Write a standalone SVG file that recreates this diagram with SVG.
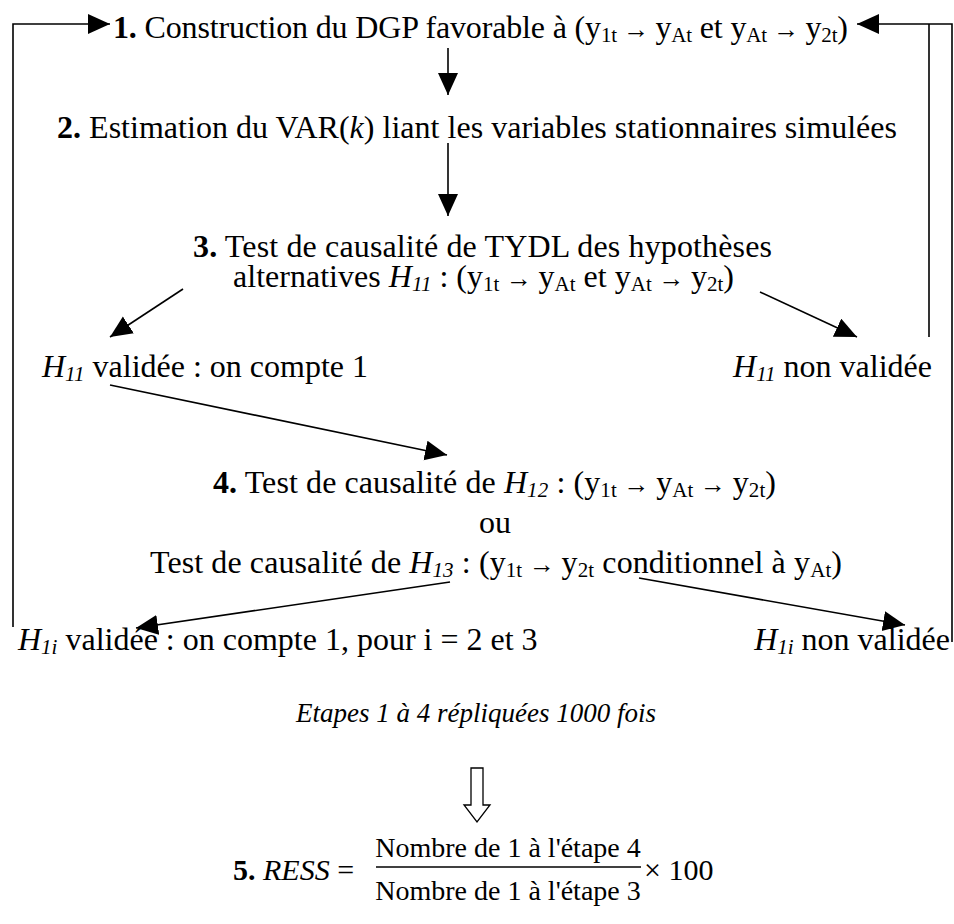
<svg xmlns="http://www.w3.org/2000/svg" width="954" height="924" viewBox="0 0 954 924">
<style>
text{font-family:"Liberation Serif","Times New Roman",serif;font-size:32px;fill:#000}
.b{font-weight:bold}
.i{font-style:italic}
.s{font-size:21px}
.a{font-size:26px}
.m{text-anchor:middle}
.e{text-anchor:end}
.ln{stroke:#000;stroke-width:1.6;fill:none}
.ar{stroke:#000;stroke-width:1.6;fill:none;marker-end:url(#ah)}
</style>
<defs>
<marker id="ah" markerUnits="userSpaceOnUse" markerWidth="24" markerHeight="22" refX="22" refY="10" orient="auto">
<path d="M0,0 L22,10 L0,20 Z" fill="#000"/>
</marker>
</defs>
<rect width="954" height="924" fill="#fff"/>
<g id="connectors">
<path class="ar" d="M13,627 V24 H110"/>
<path class="ln" d="M929,337 V24"/>
<path class="ar" d="M952,642 V24 H857"/>
<path class="ar" d="M448,48 V95"/>
<path class="ar" d="M448,143 V216"/>
<path class="ar" d="M183,289 L110,337"/>
<path class="ar" d="M760,292 L857,337"/>
<path class="ar" d="M110,385 L447,455"/>
<path class="ar" d="M450,582 L136,628"/>
<path class="ar" d="M639,578 L905,625"/>
<polygon points="471,768 483,768 483,805 490,805 477,822 464,805 471,805" fill="#fff" stroke="#000" stroke-width="1.3"/>
</g>
<g id="n1"><text x="113" y="38" textLength="735" lengthAdjust="spacing"><tspan class="b">1.</tspan> Construction du DGP favorable à (y<tspan class="s" dy="4">1t</tspan><tspan class="a" dy="-4"> → </tspan>y<tspan class="s" dy="4">At</tspan><tspan dy="-4"> et y</tspan><tspan class="s" dy="4">At</tspan><tspan class="a" dy="-4"> → </tspan>y<tspan class="s" dy="4">2t</tspan><tspan dy="-4">)</tspan></text></g>
<g id="n2"><text x="57" y="138" textLength="840" lengthAdjust="spacing"><tspan class="b">2.</tspan> Estimation du VAR(<tspan class="i">k</tspan>) liant les variables stationnaires simulées</text></g>
<g id="n3">
<text x="193" y="257" textLength="579" lengthAdjust="spacing"><tspan class="b">3.</tspan> Test de causalité de TYDL des hypothèses</text>
<text x="233" y="287" textLength="501" lengthAdjust="spacing">alternatives <tspan class="i">H</tspan><tspan class="i s" dy="4">11</tspan><tspan dy="-4"> : (y</tspan><tspan class="s" dy="4">1t</tspan><tspan class="a" dy="-4"> → </tspan>y<tspan class="s" dy="4">At</tspan><tspan dy="-4"> et y</tspan><tspan class="s" dy="4">At</tspan><tspan class="a" dy="-4"> → </tspan>y<tspan class="s" dy="4">2t</tspan><tspan dy="-4">)</tspan></text>
</g>
<g id="n3v"><text x="42" y="377"><tspan class="i">H</tspan><tspan class="i s" dy="4">11</tspan><tspan dy="-4"> validée : on compte 1</tspan></text></g>
<g id="n3nv"><text x="932" y="377" class="e"><tspan class="i">H</tspan><tspan class="i s" dy="4">11</tspan><tspan dy="-4"> non validée</tspan></text></g>
<g id="n4">
<text x="213" y="493" textLength="563" lengthAdjust="spacing"><tspan class="b">4.</tspan> Test de causalité de <tspan class="i">H</tspan><tspan class="i s" dy="4">12</tspan><tspan dy="-4"> : (y</tspan><tspan class="s" dy="4">1t</tspan><tspan class="a" dy="-4"> → </tspan>y<tspan class="s" dy="4">At</tspan><tspan class="a" dy="-4"> → </tspan>y<tspan class="s" dy="4">2t</tspan><tspan dy="-4">)</tspan></text>
<text x="495" y="533" class="m">ou</text>
<text x="150" y="573" textLength="692" lengthAdjust="spacing">Test de causalité de <tspan class="i">H</tspan><tspan class="i s" dy="4">13</tspan><tspan dy="-4"> : (y</tspan><tspan class="s" dy="4">1t</tspan><tspan class="a" dy="-4"> → </tspan>y<tspan class="s" dy="4">2t</tspan><tspan dy="-4"> conditionnel à y</tspan><tspan class="s" dy="4">At</tspan><tspan dy="-4">)</tspan></text>
</g>
<g id="n4v"><text x="18" y="650"><tspan class="i">H</tspan><tspan class="i s" dy="4">1i</tspan><tspan dy="-4"> validée : on compte 1, pour i = 2 et 3</tspan></text></g>
<g id="n4nv"><text x="950" y="650" class="e"><tspan class="i">H</tspan><tspan class="i s" dy="4">1i</tspan><tspan dy="-4"> non validée</tspan></text></g>
<g id="rep"><text x="476" y="722" class="m i" style="font-size:27px">Etapes 1 à 4 répliquées 1000 fois</text></g>
<g id="n5">
<text x="233" y="880" style="font-size:30px"><tspan class="b">5.</tspan> <tspan class="i">RESS</tspan> =</text>
<text x="508" y="857" class="m" style="font-size:28px">Nombre de 1 à l'étape 4</text>
<line x1="376" y1="867" x2="641" y2="867" stroke="#000" stroke-width="1.6"/>
<text x="508" y="900" class="m" style="font-size:28px">Nombre de 1 à l'étape 3</text>
<text x="644" y="880" style="font-size:30px">× 100</text>
</g>
</svg>
